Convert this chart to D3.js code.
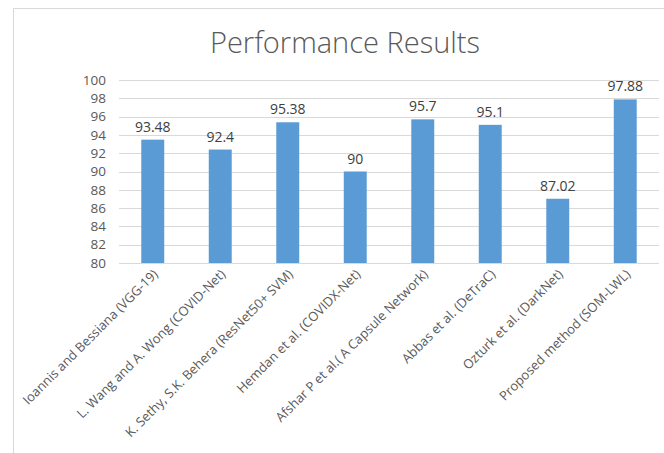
<!DOCTYPE html>
<html>
<head>
<meta charset="utf-8">
<script src="https://cdn.jsdelivr.net/npm/d3@7"></script>
<style>
body { margin: 0; background: #fff; }
text { font-family: "Open Sans", "Noto Sans", sans-serif; }
</style>
</head>
<body>
<script>
var w = 664;
var h = 453;

var methods = [
    "Ioannis and Bessiana (VGG-19)",
    "L. Wang and A. Wong (COVID-Net)",
    "K. Sethy, S.K. Behera (ResNet50+ SVM)",
    "Hemdan et al. (COVIDX-Net)",
    "Afshar P et al.( A Capsule Network)",
    "Abbas et al. (DeTraC)",
    "Ozturk et al. (DarkNet)",
    "Proposed method (SOM-LWL)"
];
var accuracy = [93.48, 92.4, 95.38, 90, 95.7, 95.1, 87.02, 97.88];
var yTicks = [80, 82, 84, 86, 88, 90, 92, 94, 96, 98, 100];

var margin = {left: 119, right: 5, top: 80, bottom: 190};

var svg = d3.select("body").append("svg")
    .attr("width", w)
    .attr("height", h);

// chart frame (clipped by the picture on right and bottom)
svg.append("rect")
    .attr("x", 13.5).attr("y", 8.5)
    .attr("width", 700).attr("height", 500)
    .attr("fill", "none")
    .attr("stroke", "#d9d9d9");

var x = d3.scaleBand()
    .domain(methods)
    .range([margin.left, w - margin.right])
    .paddingInner(0.66)
    .paddingOuter(0.33);

var y = d3.scaleLinear()
    .domain([80, 100])
    .range([h - margin.bottom, margin.top]);

// gridlines
svg.append("g")
    .selectAll("line")
    .data(yTicks)
    .enter()
    .append("line")
    .attr("x1", margin.left)
    .attr("x2", w - margin.right)
    .attr("y1", function(d){ return Math.round(y(d)) + 0.5; })
    .attr("y2", function(d){ return Math.round(y(d)) + 0.5; })
    .attr("stroke", "#d9d9d9");

// y tick labels
svg.append("g")
    .selectAll("text")
    .data(yTicks)
    .enter()
    .append("text")
    .attr("x", 106)
    .attr("y", function(d){ return y(d); })
    .attr("dy", "0.35em")
    .attr("text-anchor", "end")
    .attr("font-size", "13.5px")
    .attr("fill", "#595959")
    .text(function(d){ return d; });

// bars
svg.append("g")
    .selectAll("rect")
    .data(accuracy)
    .enter()
    .append("rect")
    .attr("x", function(d, i){ return x(methods[i]); })
    .attr("width", x.bandwidth())
    .attr("y", function(d){ return y(d); })
    .attr("height", function(d){ return y(80) - y(d); })
    .attr("fill", "#5b9bd5");

// value labels
svg.append("g")
    .selectAll("text")
    .data(accuracy)
    .enter()
    .append("text")
    .attr("x", function(d, i){ return x(methods[i]) + x.bandwidth() / 2; })
    .attr("y", function(d){ return y(d) - 8; })
    .attr("text-anchor", "middle")
    .attr("font-size", "14px")
    .attr("fill", "#404040")
    .text(function(d){ return d; });

// category labels, rotated
svg.append("g")
    .selectAll("text")
    .data(methods)
    .enter()
    .append("text")
    .attr("transform", function(d){
        var cx = x(d) + x.bandwidth() / 2 + 6;
        return "translate(" + cx + "," + (y(80) + 12) + ") rotate(-45)";
    })
    .attr("text-anchor", "end")
    .attr("font-size", "13px")
    .attr("fill", "#595959")
    .text(function(d){ return d; });

// title
svg.append("text")
    .attr("x", 345)
    .attr("y", 53)
    .attr("text-anchor", "middle")
    .attr("font-size", "29px")
    .attr("font-weight", 300)
    .attr("fill", "#595959")
    .text("Performance Results");
</script>
</body>
</html>
